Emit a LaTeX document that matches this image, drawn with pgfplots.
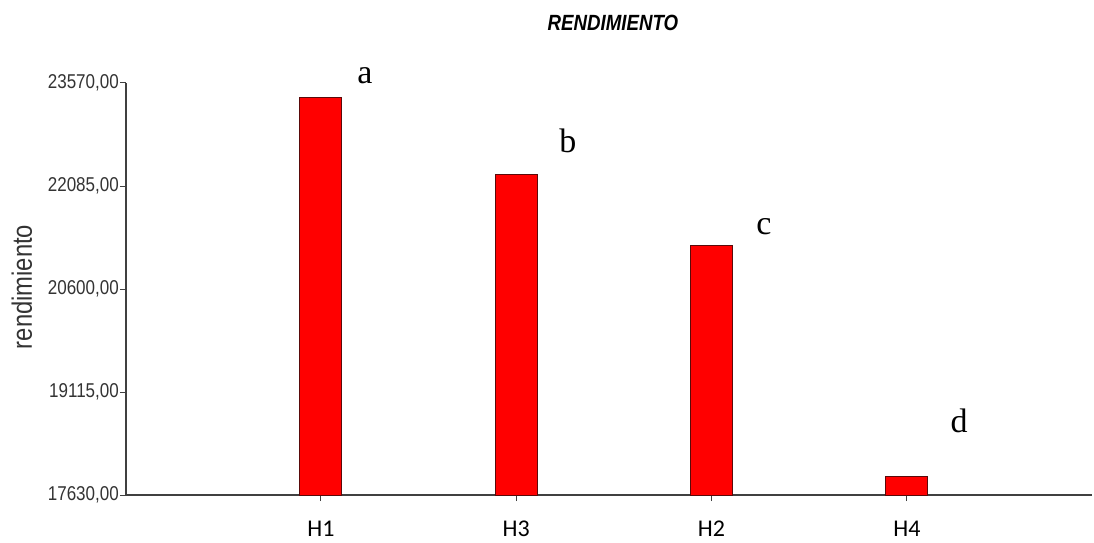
\documentclass[border=0pt]{standalone}
\usepackage{fontspec}
\setmainfont{Liberation Sans}
\newfontfamily\narrow[FakeStretch=0.85]{Liberation Sans}
\newfontfamily\carlito{Carlito}
\newfontfamily\serifletters{Liberation Serif}
\usepackage{pgfplots}
\pgfplotsset{compat=1.18}

\definecolor{axisgray}{RGB}{64,64,64}
\definecolor{barred}{RGB}{255,0,0}
\definecolor{baredge}{RGB}{90,10,10}

\begin{document}
\begin{tikzpicture}[x=1pt,y=1pt]
\path (0,0) rectangle (1094,542);
\begin{axis}[
    at={(126pt,47pt)}, anchor=south west,
    scale only axis,
    width=966pt, height=412pt,
    xmin=-0.998, xmax=3.948,
    ymin=17630, ymax=23570,
    scaled y ticks=false,
    axis lines=left,
    axis line style={-, line width=1.3pt, color=axisgray},
    clip mode=individual,
    tick align=outside,
    major tick length=6pt,
    tick style={line width=1pt, color=axisgray},
    ytick={17630,19115,20600,22085,23570},
    yticklabels={{17630,00},{19115,00},{20600,00},{22085,00},{23570,00}},
    yticklabel style={font=\narrow\fontsize{20}{20}\selectfont, inner sep=1pt, text=black!80},
    xtick={0,1,2,3},
    xticklabels={H1,H3,H2,H4},
    xticklabel style={font=\carlito\fontsize{24}{24}\selectfont,
        text height=16pt, text depth=0pt, yshift=-16pt},
    ylabel={rendimiento},
    ylabel style={at={(axis description cs:-0.1077,0.505)}, anchor=center,
        font=\narrow\fontsize{28}{28}\selectfont, text=black!80},
    title={RENDIMIENTO},
    title style={at={(axis description cs:0.504,1.112)}, anchor=base,
        font=\bfseries\itshape\narrow\fontsize{22}{22}\selectfont},
]
\addplot[ybar, bar width=42pt, fill=barred, draw=baredge, line width=1pt]
    coordinates {(0,23368) (1,22258) (2,21234) (3,17904)};

\node[font=\serifletters\fontsize{34}{34}\selectfont, anchor=base] at (axis cs:0.225,23556) {a};
\node[font=\serifletters\fontsize{34}{34}\selectfont, anchor=base] at (axis cs:1.265,22561) {b};
\node[font=\serifletters\fontsize{34}{34}\selectfont, anchor=base] at (axis cs:2.268,21379) {c};
\node[font=\serifletters\fontsize{34}{34}\selectfont, anchor=base] at (axis cs:3.267,18538) {d};
\end{axis}
\end{tikzpicture}
\end{document}
